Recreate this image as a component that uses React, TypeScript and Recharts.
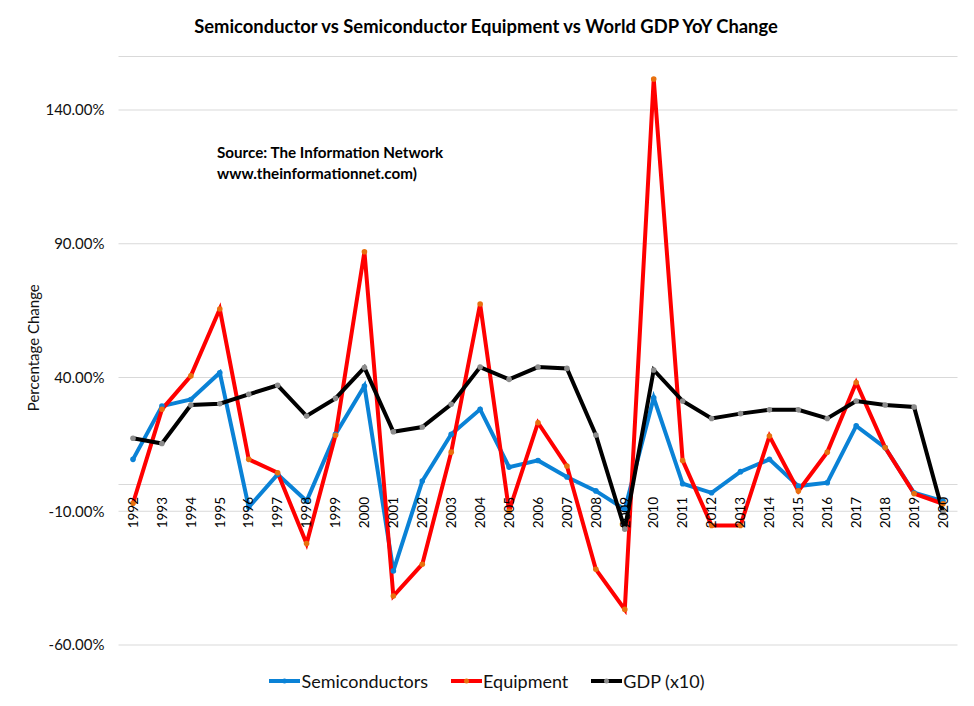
import React from 'react';
import { LineChart, Line, XAxis, YAxis, CartesianGrid, ReferenceLine, Legend, Label } from 'recharts';

const years = ['1992','1993','1994','1995','1996','1997','1998','1999','2000','2001','2002','2003','2004','2005','2006','2007','2008','2009','2010','2011','2012','2013','2014','2015','2016','2017','2018','2019','2020'];

const semiconductors = [9.4, 29.3, 31.8, 41.8, -8.5, 3.8, -6.2, 18.8, 36.8, -32.3, 1.3, 18.8, 28.1, 6.5, 9.0, 2.8, -2.4, -9.3, 32.4, 0.3, -3.1, 4.8, 9.4, -0.6, 0.7, 21.9, 13.8, -3.1, -6.2];

const equipment = [-7.0, 28.1, 40.6, 65.6, 9.4, 4.4, -22.1, 18.4, 87.0, -41.7, -29.8, 12.1, 67.5, -9.9, 23.1, 6.9, -31.7, -46.7, 151.6, 9.0, -15.3, -15.3, 18.1, -2.4, 12.1, 38.1, 13.8, -3.4, -7.2];

const gdpX10 = [17.3, 15.3, 29.7, 30.2, 33.7, 37.1, 25.6, 32.2, 43.7, 19.7, 21.5, 30.0, 43.9, 39.3, 43.9, 43.4, 18.5, -16.7, 42.8, 31.2, 24.7, 26.5, 27.9, 27.9, 24.7, 31.2, 29.7, 29.0, -10.5];

const yTicks = [-60, -10, 40, 90, 140];
const yDomain = [-60, 160];

const data = years.map((y, i) => ({
  year: y,
  semi: semiconductors[i],
  equip: equipment[i],
  gdp: gdpX10[i],
}));

const W = 974;
const H = 706;
const FONT = 'Lato, "Open Sans", sans-serif';
const margin = { top: 56.5, right: 16.5, bottom: 29, left: 0 };
const X_AXIS_H = 10;
const LEGEND_H = 22;
const plotHeight = H - margin.top - margin.bottom - X_AXIS_H - LEGEND_H;
const zeroY = margin.top + ((yDomain[1] - 0) / (yDomain[1] - yDomain[0])) * plotHeight;

const SEMI_COLOR = '#0a82d6';
const EQUIP_COLOR = '#ff0000';
const GDP_COLOR = '#000000';

const YearTick = (props: any) => {
  const { x, payload } = props;
  const ay = zeroY + 12.5;
  return (
    <text
      x={x}
      y={ay}
      dy="0.35em"
      textAnchor="end"
      fontSize={13.5}
      fontFamily={FONT}
      fill="#000"
      transform={`rotate(-90, ${x}, ${ay})`}
    >
      {payload.value}
    </text>
  );
};

const legendItems = [
  { name: 'Semiconductors', color: SEMI_COLOR, dot: SEMI_COLOR },
  { name: 'Equipment', color: EQUIP_COLOR, dot: '#e8700e' },
  { name: 'GDP (x10)', color: GDP_COLOR, dot: '#8c8c8c' },
];

const LegendContent = () => (
  <div style={{ display: 'flex', justifyContent: 'center', alignItems: 'center', width: W, height: LEGEND_H, fontFamily: FONT, fontSize: 18 }}>
    {legendItems.map((it, i) => (
      <div key={it.name} style={{ display: 'flex', alignItems: 'center', marginLeft: i === 0 ? 0 : 23 }}>
        <svg width={31} height={10} style={{ display: 'block' }}>
          <line x1={0} y1={5} x2={31} y2={5} stroke={it.color} strokeWidth={4} />
          <circle cx={15.5} cy={5} r={2.5} fill={it.dot} />
        </svg>
        <span style={{ color: '#111', marginLeft: 1 }}>{it.name}</span>
      </div>
    ))}
  </div>
);

const dotProps = (fill: string) => ({ r: 2.8, fill, stroke: fill, strokeWidth: 0 });

export default function App() {
  return (
    <div style={{ position: 'absolute', left: 0, top: 0, width: W, height: H, background: '#fff' }}>
      <LineChart width={W} height={H} data={data} margin={margin}>
        <text x={486} y={26} textAnchor="middle" dominantBaseline="central" fontFamily={FONT} fontWeight={700} fontSize={18.4} fill="#000">
          Semiconductor vs Semiconductor Equipment vs World GDP YoY Change
        </text>
        <text x={217} y={152} dominantBaseline="central" fontFamily={FONT} fontWeight={700} fontSize={15.2} fill="#000">
          Source: The Information Network
        </text>
        <text x={217} y={173} dominantBaseline="central" fontFamily={FONT} fontWeight={700} fontSize={15.2} fill="#000">
          www.theinformationnet.com)
        </text>
        <CartesianGrid vertical={false} stroke="#d9d9d9" strokeWidth={1} />
        <XAxis dataKey="year" axisLine={false} tickLine={false} interval={0} height={X_AXIS_H} padding={{ left: 14.5, right: 14.5 }} tick={<YearTick />} />
        <YAxis
          width={118.5}
          domain={yDomain}
          ticks={yTicks}
          axisLine={false}
          tickLine={false}
          tickMargin={8}
          allowDataOverflow
          tickFormatter={(v: number) => `${v.toFixed(2)}%`}
          tick={{ fontSize: 15, fontFamily: FONT, fill: '#111' }}
        >
          <Label
            content={(p: any) => {
              const vb = p.viewBox;
              const cy = vb.y + vb.height / 2 - 3;
              return (
                <text x={33} y={cy} textAnchor="middle" dominantBaseline="central" fontFamily={FONT} fontSize={15} fill="#111" transform={`rotate(-90, 33, ${cy})`}>
                  Percentage Change
                </text>
              );
            }}
          />
        </YAxis>
        <ReferenceLine y={0} stroke="#d9d9d9" strokeWidth={1} />
        <Legend
          verticalAlign="bottom"
          content={<LegendContent />}
          wrapperStyle={{ position: 'absolute', left: 0, top: 670, width: W, height: LEGEND_H }}
        />
        <Line type="linear" dataKey="semi" name="Semiconductors" stroke={SEMI_COLOR} strokeWidth={4} dot={dotProps(SEMI_COLOR)} activeDot={false} isAnimationActive={false} />
        <Line type="linear" dataKey="equip" name="Equipment" stroke={EQUIP_COLOR} strokeWidth={4} dot={dotProps('#e8700e')} activeDot={false} isAnimationActive={false} />
        <Line type="linear" dataKey="gdp" name="GDP (x10)" stroke={GDP_COLOR} strokeWidth={4} dot={dotProps('#8c8c8c')} activeDot={false} isAnimationActive={false} />
      </LineChart>
    </div>
  );
}
